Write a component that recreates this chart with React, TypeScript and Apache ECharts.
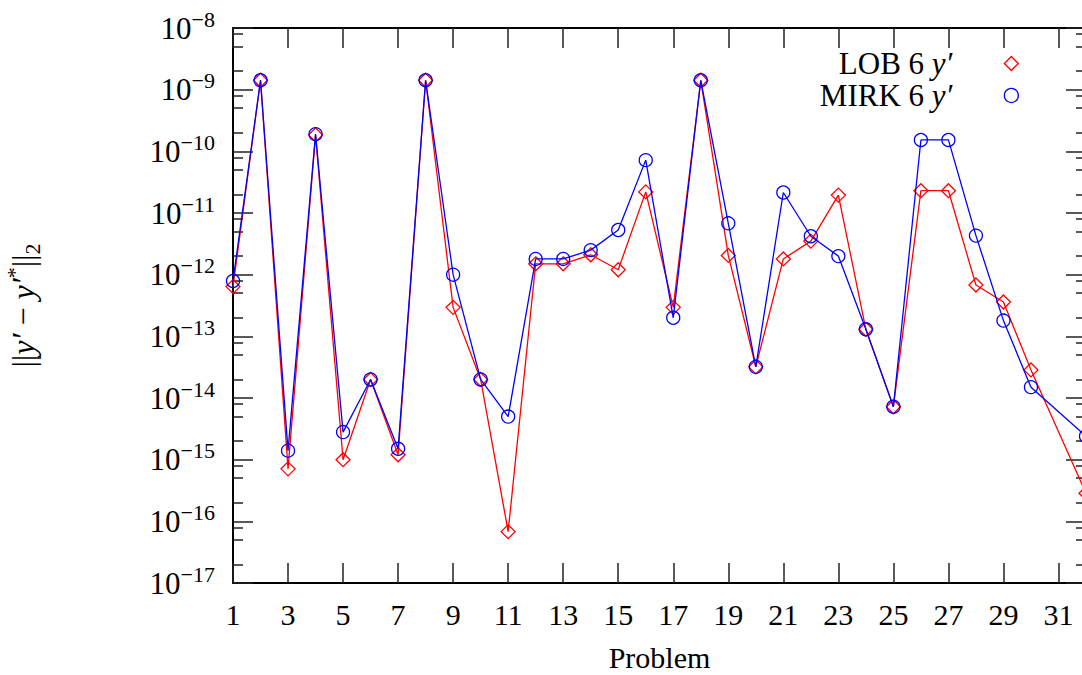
import React, { useEffect, useRef } from 'react';
import * as echarts from 'echarts';

const problems = ['1','2','3','4','5','6','7','8','9','10','11','12','13','14','15','16','17','18','19','20','21','22','23','24','25','26','27','28','29','30','31','32'];

const lobValues = [6.4e-13, 1.42e-9, 7.1e-16, 1.85e-10, 1.0e-15, 2.0e-14, 1.2e-15, 1.42e-9, 2.95e-13, 2.0e-14, 6.8e-17, 1.5e-12, 1.5e-12, 2.1e-12, 1.2e-12, 2.2e-11, 2.95e-13, 1.42e-9, 2.05e-12, 3.2e-14, 1.8e-12, 3.5e-12, 1.95e-11, 1.3e-13, 7.2e-15, 2.3e-11, 2.3e-11, 6.8e-13, 3.6e-13, 2.85e-14, null, 2.85e-16];

const mirkValues = [7.9e-13, 1.42e-9, 1.4e-15, 1.9e-10, 2.8e-15, 2.0e-14, 1.5e-15, 1.42e-9, 1.0e-12, 2.0e-14, 5.0e-15, 1.8e-12, 1.8e-12, 2.5e-12, 5.3e-12, 7.2e-11, 2.0e-13, 1.42e-9, 6.8e-12, 3.2e-14, 2.15e-11, 4.2e-12, 2.0e-12, 1.3e-13, 7.2e-15, 1.53e-10, 1.53e-10, 4.3e-12, 1.8e-13, 1.5e-14, null, 2.4e-15];

const decadeTicks = [1e-17, 1e-16, 1e-15, 1e-14, 1e-13, 1e-12, 1e-11, 1e-10, 1e-9, 1e-8];

const minorTicks = [
  2e-17, 5e-17, 8e-17, 2e-16, 5e-16, 8e-16, 2e-15, 5e-15, 8e-15,
  2e-14, 5e-14, 8e-14, 2e-13, 5e-13, 8e-13, 2e-12, 5e-12, 8e-12,
  2e-11, 5e-11, 8e-11, 2e-10, 5e-10, 8e-10, 2e-9, 5e-9, 8e-9,
];

const seriesNames = ['LOB 6 y′', 'MIRK 6 y′'];
const seriesColors = ['#ff0000', '#0000ff'];

const FONT = 'Liberation Serif';

export default function App() {
  const ref = useRef<HTMLDivElement>(null);

  useEffect(() => {
    document.body.style.margin = '0';
    document.body.style.overflow = 'hidden';
    const chart = echarts.init(ref.current as HTMLDivElement, null, { renderer: 'svg' });

    const axisLineStyle = { color: '#000', width: 2 };
    const tickStyle = { color: '#222', width: 1.5 };

    const xBase = {
      type: 'category',
      data: problems,
      boundaryGap: false,
      axisLine: { show: true, onZero: false, lineStyle: axisLineStyle },
      axisTick: { show: true, inside: true, length: 20, interval: 1, lineStyle: tickStyle },
      splitLine: { show: false },
    };

    const yBase = {
      type: 'log',
      logBase: 10,
      min: 1e-17,
      max: 1e-8,
      splitLine: { show: false },
      minorTick: { show: false },
      minorSplitLine: { show: false },
    };

    const option = {
      animation: false,
      backgroundColor: '#fff',
      grid: { left: 233, right: 6, top: 28, bottom: 92, containLabel: false, outerBoundsMode: 'none' },
      legend: {
        show: true,
        orient: 'vertical',
        align: 'right',
        right: 73,
        top: 48,
        padding: 0,
        itemGap: 1,
        itemWidth: 14,
        itemHeight: 14,
        selectedMode: false,
        data: [
          { name: seriesNames[0], icon: 'diamond', itemStyle: { color: 'transparent', borderColor: seriesColors[0], borderWidth: 1.3 } },
          { name: seriesNames[1], icon: 'circle', itemStyle: { color: 'transparent', borderColor: seriesColors[1], borderWidth: 1.3 } },
        ],
        formatter: (name: string) => `{r|${name.slice(0, -2)}}{i|y′}`,
        textStyle: {
          fontFamily: FONT,
          fontSize: 30,
          color: '#000',
          rich: {
            r: { fontFamily: FONT, fontSize: 31, lineHeight: 30, color: '#000' },
            i: { fontFamily: FONT, fontSize: 31, lineHeight: 30, fontStyle: 'italic', color: '#000', padding: [0, 47, 0, 0] },
          },
        },
      },
      xAxis: [
        {
          ...xBase,
          position: 'bottom',
          name: 'Problem',
          nameLocation: 'middle',
          nameGap: 60,
          nameTextStyle: { fontFamily: FONT, fontSize: 30, lineHeight: 28, color: '#000' },
          axisLabel: { show: true, interval: 1, margin: 16, fontFamily: FONT, fontSize: 30, color: '#000' },
        },
        {
          ...xBase,
          position: 'top',
          axisLabel: { show: false },
        },
      ],
      yAxis: [
        {
          ...yBase,
          position: 'left',
          axisLine: { show: true, onZero: false, lineStyle: axisLineStyle },
          axisTick: { show: true, inside: true, length: 20, customValues: decadeTicks, lineStyle: tickStyle },
          axisLabel: {
            show: true,
            customValues: decadeTicks,
            margin: 18,
            formatter: (v: number) => {
              const e = Math.round(Math.log10(v));
              return `{b|10}{s|−${-e}}`;
            },
            rich: {
              b: { fontFamily: FONT, fontSize: 31, lineHeight: 40, color: '#000' },
              s: { fontFamily: FONT, fontSize: 22, lineHeight: 20, verticalAlign: 'top', color: '#000' },
            },
          },
          name: '{n|||}{i|y′}{n| − }{i|y′}{sup|*}{n|||}{sub|2}',
          nameLocation: 'middle',
          nameRotate: 90,
          nameGap: 190,
          nameTextStyle: {
            fontFamily: FONT,
            fontSize: 32,
            color: '#000',
            rich: {
              n: { fontFamily: FONT, fontSize: 32, lineHeight: 40, color: '#000' },
              i: { fontFamily: FONT, fontSize: 32, lineHeight: 40, fontStyle: 'italic', color: '#000' },
              sup: { fontFamily: FONT, fontSize: 22, lineHeight: 20, verticalAlign: 'top', color: '#000' },
              sub: { fontFamily: FONT, fontSize: 22, lineHeight: 20, verticalAlign: 'bottom', color: '#000' },
            },
          },
        },
        {
          ...yBase,
          position: 'left',
          axisLine: { show: false },
          axisTick: { show: true, inside: true, length: 10, customValues: minorTicks, lineStyle: tickStyle },
          axisLabel: { show: false },
        },
        {
          ...yBase,
          position: 'right',
          axisLine: { show: true, onZero: false, lineStyle: axisLineStyle },
          axisTick: { show: true, inside: true, length: 20, customValues: decadeTicks, lineStyle: tickStyle },
          axisLabel: { show: false },
        },
        {
          ...yBase,
          position: 'right',
          axisLine: { show: false },
          axisTick: { show: true, inside: true, length: 10, customValues: minorTicks, lineStyle: tickStyle },
          axisLabel: { show: false },
        },
      ],
      series: [
        {
          name: seriesNames[0],
          type: 'line',
          xAxisIndex: 0,
          yAxisIndex: 0,
          data: lobValues,
          connectNulls: true,
          symbol: 'diamond',
          symbolSize: 14,
          showSymbol: true,
          lineStyle: { color: seriesColors[0], width: 1.3 },
          itemStyle: { color: 'transparent', borderColor: seriesColors[0], borderWidth: 1.3 },
          emphasis: { disabled: true },
          z: 2,
        },
        {
          name: seriesNames[1],
          type: 'line',
          xAxisIndex: 0,
          yAxisIndex: 0,
          data: mirkValues,
          connectNulls: true,
          symbol: 'circle',
          symbolSize: 13,
          showSymbol: true,
          lineStyle: { color: seriesColors[1], width: 1.3 },
          itemStyle: { color: 'transparent', borderColor: seriesColors[1], borderWidth: 1.3 },
          emphasis: { disabled: true },
          z: 3,
        },
      ],
    };

    chart.setOption(option as any);
    return () => {
      chart.dispose();
    };
  }, []);

  return (
    <div
      ref={ref}
      style={{ position: 'fixed', left: 0, top: 0, width: 1092, height: 675, background: '#fff' }}
    />
  );
}
